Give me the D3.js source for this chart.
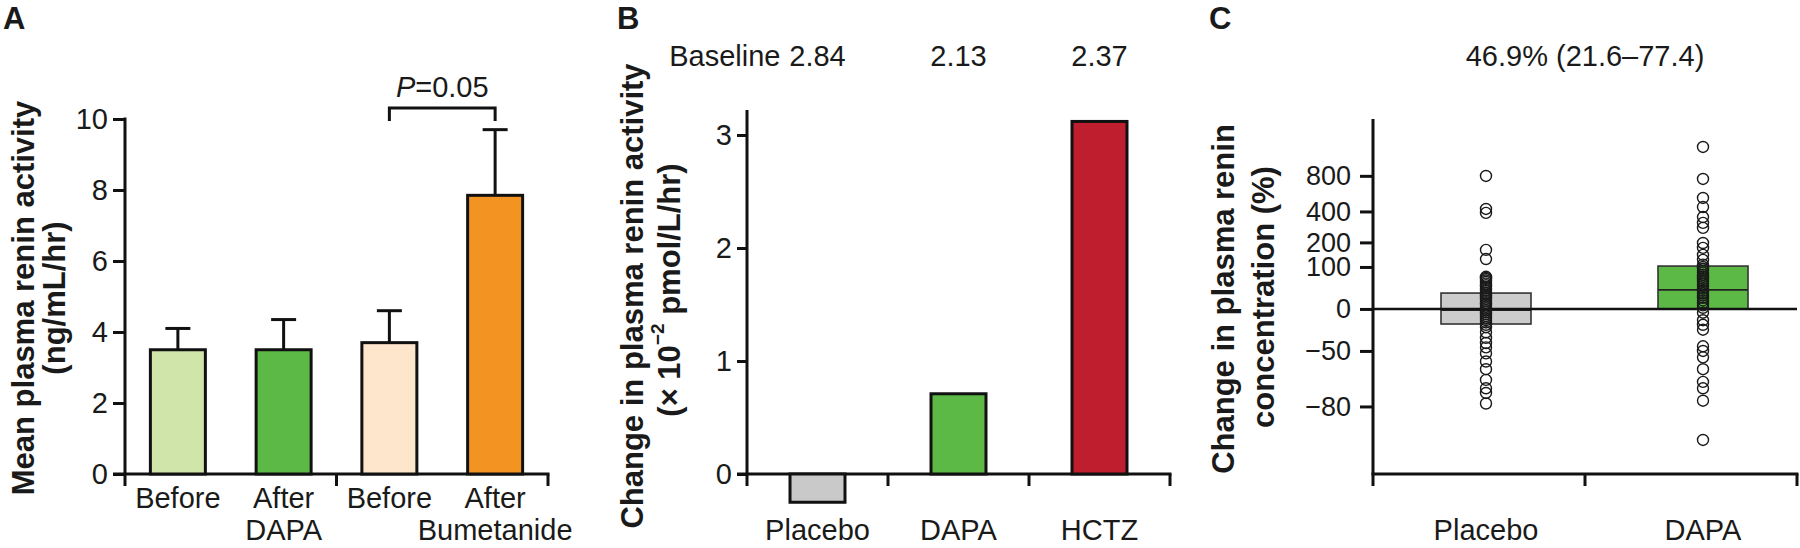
<!DOCTYPE html>
<html><head><meta charset="utf-8">
<script src="https://cdn.jsdelivr.net/npm/d3@7"></script>
<style>
body{margin:0;background:#fff}
svg{display:block}
text{font-family:"Liberation Sans",Arial,Helvetica,sans-serif;fill:#1a1a1a}
</style></head><body>
<svg id="chart" width="1800" height="548"></svg>
<script>
// ---------------- Panel A data ----------------
const aKeys = ["dapaBefore", "dapaAfter", "bumBefore", "bumAfter"];
const aLabels = [["Before"], ["After", "DAPA"], ["Before"], ["After", "Bumetanide"]];
const aMeans = [3.5, 3.5, 3.7, 7.85];
const aUpper = [4.1, 4.35, 4.6, 9.7];
const aColors = ["#cfe5aa", "#5cb946", "#fde6cc", "#f39322"];
const aTicks = [0, 2, 4, 6, 8, 10];
const aPValue = "=0.05";
const aYTitle = ["Mean plasma renin activity", "(ng/mL/hr)"];

// ---------------- Panel B data ----------------
const bCategories = ["Placebo", "DAPA", "HCTZ"];
const bValues = [-0.25, 0.71, 3.12];
const bBaselines = ["2.84", "2.13", "2.37"];
const bColors = ["#c9c9c9", "#5cb946", "#be1e2d"];
const bTicks = [0, 1, 2, 3];

// ---------------- Panel C data ----------------
const cCategories = ["Placebo", "DAPA"];
const cTicks = [-80, -50, 0, 100, 200, 400, 800];
const cPlacebo = [798, 421, 388, 165, 128,
  70, 67, 64, 60, 56, 52, 48, 44, 40, 35, 30, 26, 22, 18, 14, 10, 7, 4, 1,
  -2, -5, -8, -11, -14, -17, -20, -23, -26,
  -32, -38, -43, -47, -52, -58, -63, -69, -73, -75, -79];
const cDapa = [1350, 755, 525, 438, 356, 314, 281, 197, 174, 144, 125,
  108, 100, 94, 88, 82, 76, 70, 64, 58, 52, 46, 40, 35, 30, 25, 20, 15, 10, 6, 2,
  -6, -17, -23, -29, -46, -50, -55, -63, -70, -73, -78, -88.5];
const cQ1 = [-22, 0];
const cMedian = [-2, 37];
const cQ3 = [30, 103];
const cColors = ["#cccccc", "#5cb946"];
const cSummary = "46.9% (21.6\u201377.4)";
const cYTitle = ["Change in plasma renin", "concentration (%)"];
const cDomainPct = [-94.62, 2200];

const svg = d3.select("#chart");
const FS = 29;
const TS = 31;
const AX = 3;
const L1 = 508, L2 = 540;

function styleAxis(g, fs) {
  g.select(".domain").remove();
  g.selectAll(".tick line").attr("stroke", "#111").attr("stroke-width", AX);
  g.selectAll(".tick text").attr("font-size", fs || FS).attr("fill", "#1a1a1a")
    .style("font-family", '"Liberation Sans",Arial,sans-serif');
}
function line(g, x1, y1, x2, y2, w, c) {
  return g.append("line").attr("x1", x1).attr("y1", y1).attr("x2", x2).attr("y2", y2)
    .attr("stroke", c || "#111").attr("stroke-width", w || AX).attr("stroke-linecap", "butt");
}
function yTitle(g, lines, xs, yc) {
  return lines.map((t, i) => g.append("text").attr("transform", `translate(${xs[i]},${yc[i]}) rotate(-90)`)
      .attr("text-anchor", "middle").attr("dominant-baseline", "central")
      .attr("font-size", TS).attr("font-weight", "bold").text(t));
}

// ================= Panel A =================
{
  const g = svg.append("g");
  const y = d3.scaleLinear().domain([0, 10]).range([474, 119]);
  const x = d3.scaleBand().domain(aKeys).range([125, 548]).paddingInner(0.48).paddingOuter(0.24);
  const x0 = x.range()[0], x1 = x.range()[1], y0 = y(0);
  g.append("text").attr("x", 3).attr("y", 29).attr("font-size", 31).attr("font-weight", "bold").text("A");
  yTitle(g, aYTitle, [23, 54], [298, 298]);

  g.append("g").attr("transform", `translate(${x0},0)`)
    .call(d3.axisLeft(y).tickValues(aTicks).tickSize(12).tickPadding(5).tickFormat(d3.format("d")))
    .call(styleAxis);
  line(g, x0, y(10) - 1.5, x0, y0 + 12);
  line(g, x0 - 12, y0, x1 + 1.5, y0);
  const mid = (x(aKeys[1]) + x.bandwidth() + x(aKeys[2])) / 2;
  [mid, x1].forEach(t => line(g, t, y0, t, y0 + 12));

  const data = aKeys.map((k, i) => ({ k, v: aMeans[i], u: aUpper[i], c: aColors[i], l: aLabels[i] }));
  const cap = 25;
  data.forEach(d => {
    const cx = x(d.k) + x.bandwidth() / 2;
    line(g, cx, y(d.v), cx, y(d.u));
    line(g, cx - cap / 2, y(d.u), cx + cap / 2, y(d.u));
  });
  g.selectAll("rect.a").data(data).join("rect")
    .attr("x", d => x(d.k)).attr("width", x.bandwidth())
    .attr("y", d => y(d.v)).attr("height", d => y0 - y(d.v))
    .attr("fill", d => d.c).attr("stroke", "#111").attr("stroke-width", AX);
  data.forEach(d => {
    d.l.forEach((t, j) => g.append("text").attr("x", x(d.k) + x.bandwidth() / 2).attr("y", j ? L2 : L1)
      .attr("text-anchor", "middle").attr("font-size", FS).text(t));
  });
  const bx1 = x(aKeys[2]) + x.bandwidth() / 2, bx2 = x(aKeys[3]) + x.bandwidth() / 2;
  const by = 108;
  g.append("path").attr("d", `M${bx1},${by + 13}V${by}H${bx2}V${by + 13}`)
    .attr("fill", "none").attr("stroke", "#111").attr("stroke-width", AX);
  const pt = g.append("text").attr("x", (bx1 + bx2) / 2).attr("y", 97).attr("text-anchor", "middle").attr("font-size", FS);
  pt.append("tspan").attr("font-style", "italic").text("P");
  pt.append("tspan").text(aPValue);
}

// ================= Panel B =================
{
  const g = svg.append("g");
  const y = d3.scaleLinear().domain([0, 3]).range([474, 135]);
  const x = d3.scaleBand().domain(bCategories).range([747, 1170]).paddingInner(0.61).paddingOuter(0.305);
  const x0 = x.range()[0], x1 = x.range()[1], y0 = y(0);
  g.append("text").attr("x", 617).attr("y", 29).attr("font-size", 31).attr("font-weight", "bold").text("B");
  g.append("text").attr("transform", `translate(632,296) rotate(-90)`)
    .attr("text-anchor", "middle").attr("dominant-baseline", "central")
    .attr("font-size", TS).attr("font-weight", "bold").text("Change in plasma renin activity");
  const t2 = g.append("text").attr("transform", `translate(669,290) rotate(-90)`)
    .attr("text-anchor", "middle").attr("dominant-baseline", "central")
    .attr("font-size", TS).attr("font-weight", "bold");
  t2.append("tspan").text("(\u00d7 10");
  t2.append("tspan").attr("font-size", 19).attr("dy", -12).text("\u22122");
  t2.append("tspan").attr("dy", 12).text(" pmol/L/hr)");

  g.append("g").attr("transform", `translate(${x0},0)`)
    .call(d3.axisLeft(y).tickValues(bTicks).tickSize(10).tickPadding(5).tickFormat(d3.format("d")))
    .call(styleAxis);
  line(g, x0, 110, x0, y0 + 12);
  line(g, x0 - 10, y0, x1 + 1.5, y0);
  const edges = bCategories.map(c => x(c) + x.bandwidth() + x.step() * x.paddingInner() / 2);
  edges.forEach(t => line(g, t, y0, t, y0 + 12));

  const data = bCategories.map((c, i) => ({ c, v: bValues[i], col: bColors[i], base: bBaselines[i] }));
  g.selectAll("rect.b").data(data).join("rect")
    .attr("x", d => x(d.c)).attr("width", x.bandwidth())
    .attr("y", d => Math.min(y(d.v), y0)).attr("height", d => Math.abs(y(d.v) - y0))
    .attr("fill", d => d.col).attr("stroke", "#111").attr("stroke-width", AX);
  data.forEach(d => {
    const cx = x(d.c) + x.bandwidth() / 2;
    g.append("text").attr("x", cx).attr("y", 66).attr("text-anchor", "middle").attr("font-size", FS).text(d.base);
    g.append("text").attr("x", cx).attr("y", L2).attr("text-anchor", "middle").attr("font-size", FS).text(d.c);
  });
  g.append("text").attr("x", x(bCategories[0]) + x.bandwidth() / 2 - 37).attr("y", 66)
    .attr("text-anchor", "end").attr("font-size", FS).text("Baseline");
}

// ================= Panel C =================
{
  const g = svg.append("g");
  const r = p => 1 + p / 100;
  const y = d3.scaleLog().domain(cDomainPct.map(r)).range([486, 119]);
  const yp = p => y(r(p));
  const axX0 = 1373, axX1 = 1797, axY = 474;
  const x = d3.scalePoint().domain(cCategories).range([1486, 1703]);
  g.append("text").attr("x", 1209).attr("y", 29).attr("font-size", 31).attr("font-weight", "bold").text("C");
  yTitle(g, cYTitle, [1223, 1263], [299, 297]);
  g.append("text").attr("x", (axX0 + axX1) / 2).attr("y", 66).attr("text-anchor", "middle").attr("font-size", FS).text(cSummary);

  g.append("g").attr("transform", `translate(${axX0},0)`)
    .call(d3.axisLeft(y).tickValues(cTicks.map(r)).tickSize(13).tickPadding(9)
      .tickFormat(v => { const p = Math.round((v - 1) * 100); return p < 0 ? "\u2212" + Math.abs(p) : String(p); }))
    .call(g2 => styleAxis(g2, 27));
  line(g, axX0, 119, axX0, axY + 12);
  line(g, axX0 - 1.5, axY, axX1 + 1.5, axY);
  [(axX0 + axX1) / 2, axX1].forEach(t => line(g, t, axY, t, axY + 12));

  const bw = 90;
  cCategories.forEach((c, i) => {
    const cx = x(c);
    g.append("rect").attr("x", cx - bw / 2).attr("width", bw)
      .attr("y", yp(cQ3[i])).attr("height", yp(cQ1[i]) - yp(cQ3[i]))
      .attr("fill", cColors[i]).attr("stroke", "#333").attr("stroke-width", 1.6);
    line(g, cx - bw / 2, yp(cMedian[i]), cx + bw / 2, yp(cMedian[i]), 1.8, "#222");
  });
  line(g, axX0, yp(0), axX1, yp(0), 2.4, "#111");

  const pts = [cPlacebo, cDapa];
  cCategories.forEach((c, i) => {
    g.selectAll(null).data(pts[i]).join("circle")
      .attr("cx", x(c)).attr("cy", d => yp(d)).attr("r", 5.5)
      .attr("fill", "none").attr("stroke", "#1a1a1a").attr("stroke-width", 1.4);
  });
  cCategories.forEach(c => g.append("text").attr("x", x(c)).attr("y", L2)
    .attr("text-anchor", "middle").attr("font-size", FS).text(c));
}
</script>
</body></html>
